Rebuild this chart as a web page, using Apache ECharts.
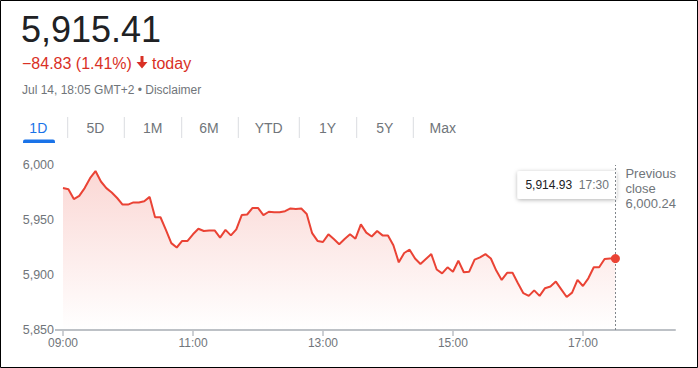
<!DOCTYPE html>
<html>
<head>
<meta charset="utf-8">
<script src="https://cdn.jsdelivr.net/npm/echarts@6/dist/echarts.min.js"></script>
<style>
html,body{margin:0;padding:0;background:#fff;}
#chart{width:698px;height:368px;}
</style>
</head>
<body>
<div id="chart"></div>
<script>
// ---- data ----
const times = [
 '09:00','09:05','09:10','09:15','09:20','09:25','09:30','09:35','09:40','09:45','09:50','09:55',
 '10:00','10:05','10:10','10:15','10:20','10:25','10:30','10:35','10:40','10:45','10:50','10:55',
 '11:00','11:05','11:10','11:15','11:20','11:25','11:30','11:35','11:40','11:45','11:50','11:55',
 '12:00','12:05','12:10','12:15','12:20','12:25','12:30','12:35','12:40','12:45','12:50','12:55',
 '13:00','13:05','13:10','13:15','13:20','13:25','13:30','13:35','13:40','13:45','13:50','13:55',
 '14:00','14:05','14:10','14:15','14:20','14:25','14:30','14:35','14:40','14:45','14:50','14:55',
 '15:00','15:05','15:10','15:15','15:20','15:25','15:30','15:35','15:40','15:45','15:50','15:55',
 '16:00','16:05','16:10','16:15','16:20','16:25','16:30','16:35','16:40','16:45','16:50','16:55',
 '17:00','17:05','17:10','17:15','17:20','17:25','17:30','17:35','17:40','17:45','17:50','17:55',
 '18:00','18:05','18:10','18:15','18:20','18:25'
];
const prices = [
 5979,5978,5969,5972,5979,5988,5994.5,5985,5979,5975,5970,5964,
 5964,5966,5966,5967,5971,5952.5,5952.5,5941,5929,5925,5931,5931,
 5937,5942,5940,5940.5,5940.5,5934,5941,5936,5941.5,5954.5,5955,5961,
 5961,5954.5,5957.5,5957,5957,5958,5960.5,5960,5960.5,5955.5,5938,5931,
 5930,5937,5932.7,5928,5932.7,5937,5933,5946,5938.5,5935,5940,5936,
 5936,5927,5911.5,5920,5923,5915,5910,5914.5,5919,5905,5901.5,5907,
 5903,5913,5902.5,5903,5914,5916,5919,5915,5904,5895.5,5902,5902,
 5892.5,5883.5,5881,5886,5881,5888,5889.5,5894,5887,5880,5884,5895.5,
 5890,5897,5907,5907,5914.5,5915,5914.93
];
const xTickLabels = ['09:00','11:00','13:00','15:00','17:00'];
const yTicks = [5850,5900,5950,6000];
const previousClose = 6000.24;
const lastTime = '17:30';
const headline = {price:'5,915.41', change:'\u221284.83 (1.41%)', when:'today', stamp:'Jul 14, 18:05 GMT+2 \u2022 Disclaimer'};
const tabs = ['1D','5D','1M','6M','YTD','1Y','5Y','Max'];

// ---- styles ----
const FONT = 'Arial, "Liberation Sans", sans-serif';
const RED = '#ea4335';
const GREY = '#70757a';

const chart = echarts.init(document.getElementById('chart'), null, {renderer:'svg'});

const lastValue = prices[prices.length - 1];
const fmtNum = v => Number(v).toLocaleString('en-US', {maximumFractionDigits: 2});

const option = {
  animation: false,
  grid: {left: 63, right: 23, top: 165, bottom: 38},
  xAxis: {
    type: 'category',
    data: times,
    boundaryGap: false,
    axisLine: {lineStyle: {color: '#bdc1c6', width: 2}},
    axisTick: {
      length: 6,
      lineStyle: {color: '#bdc1c6', width: 1.5},
      interval: (i, v) => xTickLabels.indexOf(v) >= 0
    },
    axisLabel: {
      color: GREY, fontSize: 12, fontFamily: FONT, margin: 7,
      interval: (i, v) => xTickLabels.indexOf(v) >= 0
    },
    splitLine: {show: false}
  },
  yAxis: {
    type: 'value',
    min: yTicks[0], max: yTicks[yTicks.length - 1], interval: 50,
    axisLine: {show: false},
    axisTick: {show: true, customValues: [yTicks[0]], length: 8, lineStyle: {color: '#bdc1c6', width: 2}},
    axisLabel: {color: GREY, fontSize: 12.5, fontFamily: FONT, margin: 9, formatter: v => fmtNum(v)},
    splitLine: {show: true, showMinLine: false, showMaxLine: false, lineStyle: {color: '#efefef', width: 1}}
  },
  series: [{
    type: 'line',
    data: prices,
    symbol: 'none',
    showSymbol: false,
    lineStyle: {color: RED, width: 2},
    itemStyle: {color: RED},
    areaStyle: {
      color: new echarts.graphic.LinearGradient(0, 0, 0, 1, [
        {offset: 0, color: 'rgba(234,67,53,0.30)'},
        {offset: 1, color: 'rgba(234,67,53,0.0)'}
      ])
    },
    markLine: {
      silent: true,
      symbol: 'none',
      label: {show: false},
      animation: false,
      data: [
        {yAxis: previousClose, lineStyle: {color: '#a0a0a0', type: [2, 6], width: 1.5}},
        {xAxis: lastTime, lineStyle: {color: '#80868b', type: [2, 2], width: 1}}
      ]
    },
    markPoint: {
      silent: true,
      symbol: 'circle',
      symbolSize: 9,
      label: {show: false},
      itemStyle: {color: RED},
      data: [{coord: [lastTime, lastValue]}]
    },
    z: 3
  }]
};
chart.setOption(option);

// annotations placed from the library's own scale
const [px, py] = chart.convertToPixel({gridIndex: 0}, [lastTime, lastValue]);
const gridTop = chart.convertToPixel({gridIndex: 0}, [times[0], yTicks[yTicks.length - 1]])[1];

const tabCenters = [38.3, 95.5, 152.8, 209, 268.7, 327.5, 384.7, 442.7];
const sepX = [67.7, 124.3, 181.7, 238.3, 299.3, 356.7, 413.3];

const graphics = [
  // border
  {type: 'rect', shape: {x: 0.5, y: 0.5, width: 697, height: 367}, style: {fill: 'none', stroke: '#000', lineWidth: 1}, z: 100, silent: true},
  // header
  {type: 'text', x: 21, y: 29, style: {text: headline.price, font: '36px ' + FONT, fill: '#202124', verticalAlign: 'middle'}},
  {type: 'text', x: 22, y: 63, style: {text: headline.change, font: '16px ' + FONT, fill: '#d93025', verticalAlign: 'middle'}},
  {type: 'polygon', shape: {points: [[140.5,56],[143.5,56],[143.5,62],[147.5,62],[142,68.5],[136.5,62],[140.5,62]]}, style: {fill: '#d93025'}},
  {type: 'text', x: 152, y: 63, style: {text: headline.when, font: '16px ' + FONT, fill: '#d93025', verticalAlign: 'middle'}},
  {type: 'text', x: 22, y: 90, style: {text: headline.stamp, font: '12px ' + FONT, fill: GREY, verticalAlign: 'middle'}},
  // tab underline
  {type: 'rect', shape: {x: 23, y: 139.5, width: 32, height: 3.5, r: [2, 2, 0, 0]}, style: {fill: '#1a73e8'}}
];
tabs.forEach((t, i) => {
  graphics.push({type: 'text', x: tabCenters[i], y: 128, style: {text: t, font: '14px ' + FONT, fill: i === 0 ? '#1a73e8' : GREY, align: 'center', verticalAlign: 'middle'}});
});
sepX.forEach(x => {
  graphics.push({type: 'line', shape: {x1: x, y1: 117, x2: x, y2: 138}, style: {stroke: '#dadce0', lineWidth: 1}});
});
// tooltip box
const boxW = 99, boxH = 28;
graphics.push({
  type: 'group', x: px + 1 - boxW, y: gridTop + 6, z: 50,
  children: [
    {type: 'rect', shape: {x: 0, y: 0, width: boxW, height: boxH, r: 2},
     style: {fill: '#fff', shadowBlur: 4, shadowOffsetY: 1, shadowColor: 'rgba(0,0,0,0.3)'}},
    {type: 'text', x: 8, y: boxH / 2, style: {
      text: '{v|' + fmtNum(lastValue) + '}  {t|' + lastTime + '}',
      verticalAlign: 'middle',
      rich: {v: {font: '12px ' + FONT, fill: '#202124'}, t: {font: '12px ' + FONT, fill: GREY}}
    }}
  ]
});
// previous close label
graphics.push({type: 'text', x: px + 10, y: gridTop + 1, style: {
  text: 'Previous\nclose\n' + fmtNum(previousClose), font: '13px ' + FONT, fill: GREY, lineHeight: 15, verticalAlign: 'top'
}});

chart.setOption({graphic: graphics});
</script>
</body>
</html>
